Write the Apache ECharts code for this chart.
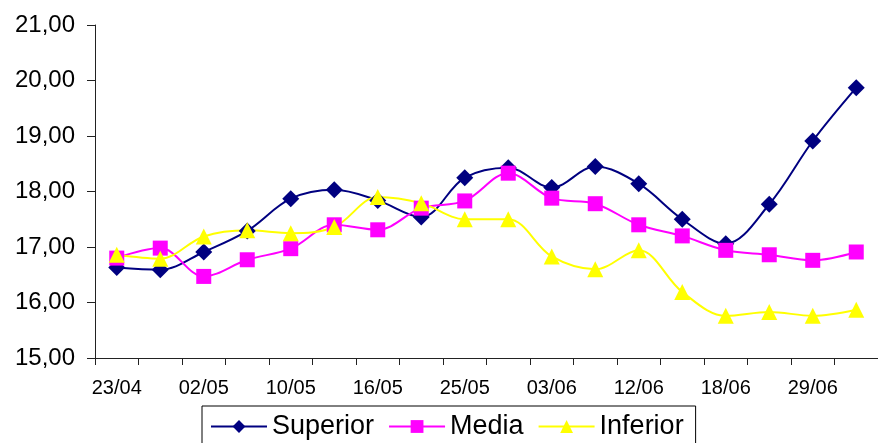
<!DOCTYPE html>
<html>
<head>
<meta charset="utf-8">
<script src="https://cdn.jsdelivr.net/npm/echarts@6/dist/echarts.min.js"></script>
<style>
html,body{margin:0;padding:0;background:#fff;}
#c{width:878px;height:443px;}
</style>
</head>
<body>
<div id="c"></div>
<script>
const categories = ['23/04','27/04','02/05','06/05','10/05','13/05','16/05','20/05','25/05','30/05','03/06','07/06','12/06','15/06','18/06','24/06','29/06','02/07'];
const superior = [16.63,16.59,16.91,17.29,17.87,18.03,17.84,17.54,18.25,18.43,18.07,18.45,18.14,17.50,17.06,17.77,18.91,19.87];
const media    = [16.80,16.98,16.47,16.77,16.97,17.40,17.31,17.70,17.83,18.33,17.88,17.78,17.40,17.20,16.94,16.86,16.76,16.91];
const inferior = [16.86,16.79,17.19,17.30,17.25,17.36,17.90,17.79,17.50,17.50,16.83,16.60,16.94,16.19,15.76,15.83,15.76,15.87];
const seriesNames = ['Superior','Media','Inferior'];
const yTicks = {min:15, max:21, interval:1};

const chart = echarts.init(document.getElementById('c'), null, {renderer:'canvas'});
const font = 'Liberation Sans, Arial, sans-serif';
function mk(name, data, color, symbol, size){
  return {
    name, type:'line', data, smooth:0.35,
    symbol, symbolSize:size,
    lineStyle:{color, width:2},
    itemStyle:{color},
    emphasis:{disabled:true}
  };
}
chart.setOption({
  animation:false,
  backgroundColor:'#fff',
  grid:{left:95, right:-2, top:25, bottom:85, containLabel:false},
  xAxis:{
    type:'category', data:categories, boundaryGap:true,
    axisLine:{lineStyle:{color:'#222', width:1}},
    axisTick:{show:true, interval:0, length:7, lineStyle:{color:'#222'}},
    axisLabel:{interval:1, fontSize:20, color:'#000', fontFamily:font, margin:20},
    splitLine:{show:false}
  },
  yAxis:{
    type:'value', min:yTicks.min, max:yTicks.max, interval:yTicks.interval,
    axisLine:{show:true, lineStyle:{color:'#222', width:1}},
    axisTick:{show:true, length:8, lineStyle:{color:'#222'}},
    axisLabel:{fontSize:24, color:'#000', fontFamily:font, margin:20,
      formatter:v=>v.toFixed(2).replace('.',',')},
    splitLine:{show:false}
  },
  legend:{
    data:seriesNames,
    left:202, top:406,
    orient:'horizontal',
    padding:[7,12,7,8],
    itemGap:14, itemWidth:56, itemHeight:16,
    borderColor:'#000', borderWidth:1,
    textStyle:{fontSize:27, color:'#000', fontFamily:font}
  },
  series:[
    mk('Superior', superior, '#000080', 'diamond', 17),
    mk('Media', media, '#FF00FF', 'rect', 15),
    mk('Inferior', inferior, '#FFFF00', 'triangle', 16)
  ]
});
</script>
</body>
</html>
